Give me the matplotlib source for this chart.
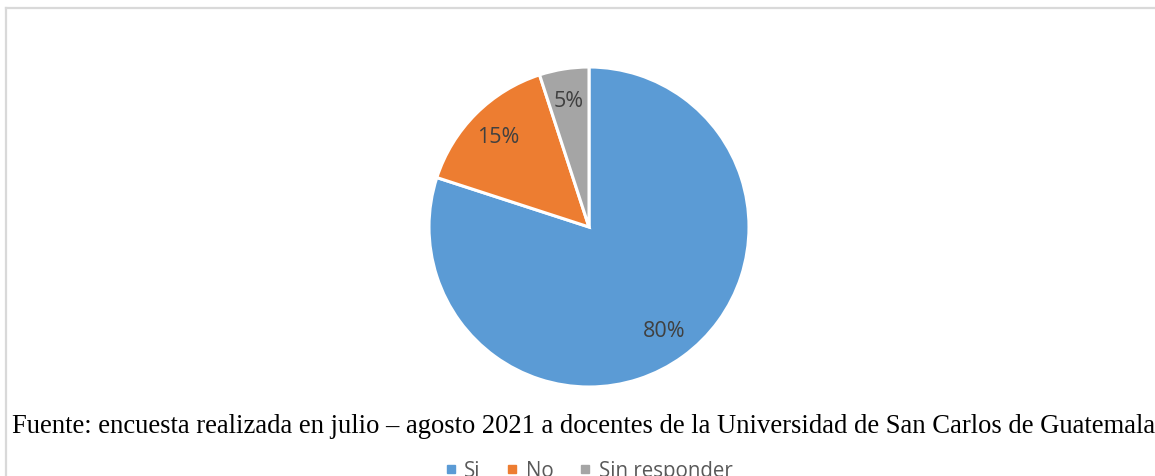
import matplotlib.pyplot as plt
import numpy as np
from matplotlib.lines import Line2D

labels = ['Si', 'No', 'Sin responder']
values = [80, 15, 5]
colors = ['#5B9BD5', '#ED7D31', '#A5A5A5']
source = 'Fuente: encuesta realizada en julio \u2013 agosto 2021 a docentes de la Universidad de San Carlos de Guatemala'

W, H = 1155, 477
fig = plt.figure(figsize=(W / 100, H / 100), dpi=100)

# chart frame (only top and left edges are visible in the crop)
fig.add_artist(Line2D([6 / W, 1], [1 - 9 / H, 1 - 9 / H], color='#D9D9D9', lw=1.6))
fig.add_artist(Line2D([6 / W, 6 / W], [0, 1 - 9 / H], color='#D9D9D9', lw=1.6))

ax = fig.add_axes([429 / W, (H - 388) / H, 320 / W, 320 / H])
wedges, texts = ax.pie(values, colors=colors, startangle=90, counterclock=False,
                       radius=1, wedgeprops=dict(edgecolor='white', linewidth=2.2))
for w, v in zip(wedges, values):
    ang = np.deg2rad((w.theta1 + w.theta2) / 2)
    ax.text(0.8 * np.cos(ang), 0.8 * np.sin(ang), f'{v}%', ha='center', va='center',
            fontsize=15.5, color='#404040', family='Open Sans')
ax.set_xlim(-1, 1)
ax.set_ylim(-1, 1)
ax.set_aspect('auto')

fig.text(12 / W, 44 / H, source, family='Liberation Serif', fontsize=19.2,
         color='black', ha='left', va='baseline')

handles = [Line2D([], [], marker='s', ls='', color=c, markersize=6) for c in colors]
leg = fig.legend(handles, labels, loc='center', bbox_to_anchor=(589 / W, 5 / H), ncol=3,
                 frameon=False, handlelength=0.5, handletextpad=0.4, columnspacing=1.3,
                 prop={'family': 'Open Sans', 'size': 14.8})
for t in leg.get_texts():
    t.set_color('#595959')

fig.savefig('out.png', dpi=100)
